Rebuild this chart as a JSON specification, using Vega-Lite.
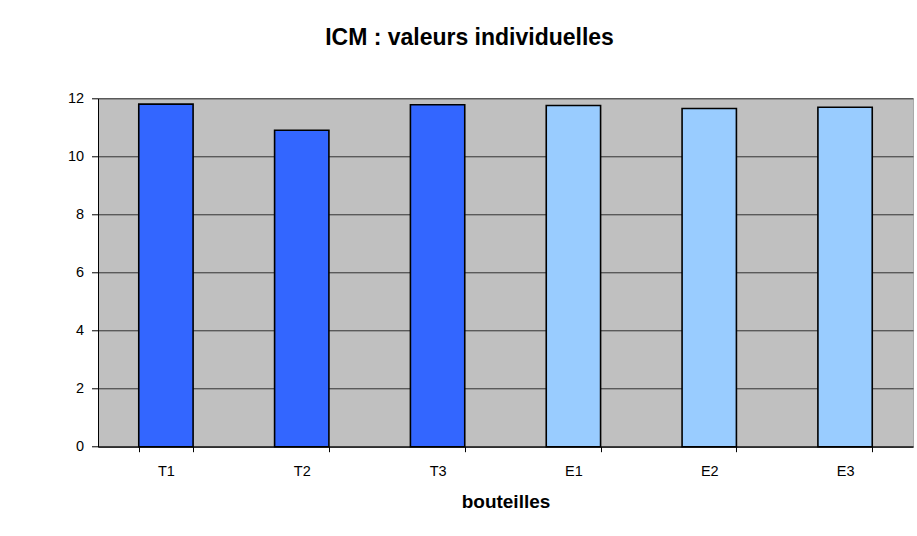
{
  "$schema": "https://vega.github.io/schema/vega-lite/v6.json",
  "autosize": "none",
  "width": 815,
  "height": 348.4,
  "padding": {"left": 98, "top": 98.3, "right": 4, "bottom": 89},
  "background": "white",
  "title": {
    "text": "ICM : valeurs individuelles",
    "font": "Liberation Sans",
    "fontSize": 23,
    "fontWeight": "bold",
    "color": "black",
    "anchor": "middle",
    "dx": -36,
    "baseline": "alphabetic",
    "offset": 22
  },
  "data": {
    "values": [
      {"bouteille": "T1", "icm": 11.80, "groupe": "T"},
      {"bouteille": "T2", "icm": 10.90, "groupe": "T"},
      {"bouteille": "T3", "icm": 11.78, "groupe": "T"},
      {"bouteille": "E1", "icm": 11.75, "groupe": "E"},
      {"bouteille": "E2", "icm": 11.65, "groupe": "E"},
      {"bouteille": "E3", "icm": 11.69, "groupe": "E"}
    ]
  },
  "mark": {"type": "bar", "stroke": "black", "strokeWidth": 1.6},
  "encoding": {
    "x": {
      "field": "bouteille",
      "type": "nominal",
      "sort": null,
      "scale": {"paddingInner": 0.6, "paddingOuter": 0.3},
      "axis": {
        "title": "bouteilles",
        "titleFont": "Liberation Sans",
        "titleFontSize": 19,
        "titleFontWeight": "bold",
        "titleColor": "black",
        "titleBaseline": "alphabetic",
        "titleY": 61.3,
        "labelAngle": 0,
        "labelFont": "Liberation Sans",
        "labelFontSize": 14.5,
        "labelColor": "black",
        "labelBaseline": "alphabetic",
        "labelPadding": 24,
        "tickBand": "extent",
        "tickSize": 5,
        "tickColor": "black",
        "domainColor": "black",
        "grid": false
      }
    },
    "y": {
      "field": "icm",
      "type": "quantitative",
      "scale": {"domain": [0, 12], "nice": false},
      "axis": {
        "title": null,
        "values": [0, 2, 4, 6, 8, 10, 12],
        "labelFont": "Liberation Sans",
        "labelFontSize": 14.5,
        "labelColor": "black",
        "labelPadding": 8,
        "tickSize": 6.5,
        "tickColor": "black",
        "domainColor": "black",
        "grid": true,
        "gridColor": "black",
        "gridOpacity": 0.75,
        "gridWidth": 1
      }
    },
    "color": {
      "field": "groupe",
      "type": "nominal",
      "scale": {"domain": ["T", "E"], "range": ["#3366FF", "#99CCFF"]},
      "legend": null
    }
  },
  "config": {
    "view": {"fill": "#C0C0C0", "stroke": "#A8A8A8", "strokeWidth": 1}
  }
}
